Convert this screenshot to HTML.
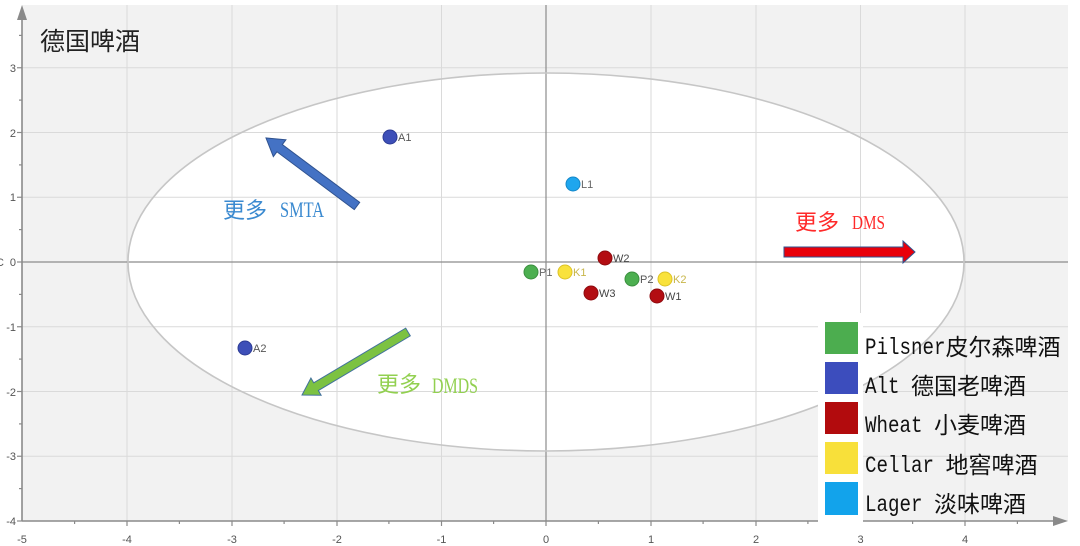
<!DOCTYPE html>
<html><head><meta charset="utf-8"><style>
html,body{margin:0;padding:0;background:#fff;}
svg{display:block;}
</style></head><body>
<svg width="1080" height="546" viewBox="0 0 1080 546" xmlns="http://www.w3.org/2000/svg">
<rect x="0" y="0" width="1080" height="546" fill="#ffffff"/>
<!-- plot background -->
<rect x="22" y="5" width="1046" height="516" fill="#f2f2f2"/>
<!-- ellipse fill -->
<ellipse cx="546" cy="262" rx="418" ry="189" fill="#ffffff"/>
<!-- gridlines -->
<g stroke="#dadada" stroke-width="1">
<line x1="22" y1="67.75" x2="1068" y2="67.75"/>
<line x1="22" y1="132.5" x2="1068" y2="132.5"/>
<line x1="22" y1="197.25" x2="1068" y2="197.25"/>
<line x1="22" y1="326.75" x2="1068" y2="326.75"/>
<line x1="22" y1="391.5" x2="1068" y2="391.5"/>
<line x1="22" y1="456.25" x2="1068" y2="456.25"/>
<line x1="127" y1="5" x2="127" y2="521"/>
<line x1="232" y1="5" x2="232" y2="521"/>
<line x1="337" y1="5" x2="337" y2="521"/>
<line x1="441.5" y1="5" x2="441.5" y2="521"/>
<line x1="651" y1="5" x2="651" y2="521"/>
<line x1="756" y1="5" x2="756" y2="521"/>
<line x1="860.5" y1="5" x2="860.5" y2="521"/>
<line x1="965" y1="5" x2="965" y2="521"/>
</g>
<!-- zero lines -->
<line x1="22" y1="262" x2="1068" y2="262" stroke="#8c8c8c" stroke-width="1.2"/>
<line x1="546" y1="5" x2="546" y2="521" stroke="#8c8c8c" stroke-width="1.2"/>
<!-- ellipse outline -->
<ellipse cx="546" cy="262" rx="418" ry="189" fill="none" stroke="#c6c6c6" stroke-width="1.6"/>
<!-- axes -->
<g stroke="#8a8a8a" stroke-width="1.6" fill="none">
<line x1="22" y1="14" x2="22" y2="521"/>
<line x1="22" y1="521" x2="1060" y2="521"/>
</g>
<polygon points="22,5 17,20 27,20" fill="#8a8a8a"/>
<polygon points="1068,521 1053,516 1053,526" fill="#8a8a8a"/>
<!-- y ticks -->
<g stroke="#8a8a8a" stroke-width="1.2">
<line x1="17" y1="67.75" x2="22" y2="67.75"/>
<line x1="17" y1="132.5" x2="22" y2="132.5"/>
<line x1="17" y1="197.25" x2="22" y2="197.25"/>
<line x1="17" y1="262" x2="22" y2="262"/>
<line x1="17" y1="326.75" x2="22" y2="326.75"/>
<line x1="17" y1="391.5" x2="22" y2="391.5"/>
<line x1="17" y1="456.25" x2="22" y2="456.25"/>
<line x1="17" y1="521" x2="22" y2="521"/>
<line x1="19" y1="35.4" x2="22" y2="35.4"/>
<line x1="19" y1="100.1" x2="22" y2="100.1"/>
<line x1="19" y1="164.9" x2="22" y2="164.9"/>
<line x1="19" y1="229.6" x2="22" y2="229.6"/>
<line x1="19" y1="294.4" x2="22" y2="294.4"/>
<line x1="19" y1="359.1" x2="22" y2="359.1"/>
<line x1="19" y1="423.9" x2="22" y2="423.9"/>
<line x1="19" y1="488.6" x2="22" y2="488.6"/>
<!-- x ticks -->
<line x1="127" y1="521" x2="127" y2="526"/>
<line x1="232" y1="521" x2="232" y2="526"/>
<line x1="337" y1="521" x2="337" y2="526"/>
<line x1="441.5" y1="521" x2="441.5" y2="526"/>
<line x1="546" y1="521" x2="546" y2="526"/>
<line x1="651" y1="521" x2="651" y2="526"/>
<line x1="756" y1="521" x2="756" y2="526"/>
<line x1="860.5" y1="521" x2="860.5" y2="526"/>
<line x1="965" y1="521" x2="965" y2="526"/>
<line x1="74.6" y1="521" x2="74.6" y2="524"/>
<line x1="179.4" y1="521" x2="179.4" y2="524"/>
<line x1="284.1" y1="521" x2="284.1" y2="524"/>
<line x1="388.9" y1="521" x2="388.9" y2="524"/>
<line x1="493.6" y1="521" x2="493.6" y2="524"/>
<line x1="598.4" y1="521" x2="598.4" y2="524"/>
<line x1="703.1" y1="521" x2="703.1" y2="524"/>
<line x1="807.9" y1="521" x2="807.9" y2="524"/>
<line x1="912.6" y1="521" x2="912.6" y2="524"/>
<line x1="1017.4" y1="521" x2="1017.4" y2="524"/>
</g>
<!-- y labels -->
<g font-family="Liberation Sans, sans-serif" font-size="11" fill="#555" text-anchor="end">
<text x="16" y="72">3</text>
<text x="16" y="137">2</text>
<text x="16" y="201">1</text>
<text x="16" y="266">0</text>
<text x="16" y="331">-1</text>
<text x="16" y="396">-2</text>
<text x="16" y="460">-3</text>
<text x="16" y="525">-4</text>
</g>
<text x="-4" y="266" font-family="Liberation Sans, sans-serif" font-size="11" fill="#555">C</text>
<!-- x labels -->
<g font-family="Liberation Sans, sans-serif" font-size="11" fill="#555" text-anchor="middle">
<text x="22" y="543">-5</text>
<text x="127" y="543">-4</text>
<text x="232" y="543">-3</text>
<text x="337" y="543">-2</text>
<text x="441.5" y="543">-1</text>
<text x="546" y="543">0</text>
<text x="651" y="543">1</text>
<text x="756" y="543">2</text>
<text x="860.5" y="543">3</text>
<text x="965" y="543">4</text>
</g>
<!-- title -->
<text x="40" y="50" font-family="Liberation Sans, Noto Sans CJK SC, sans-serif" font-size="25" fill="#222">德国啤酒</text>
<!-- arrows -->
<g transform="translate(357,206) rotate(216.77)">
<polygon points="0,-4.5 96.6,-4.5 96.6,-10.5 113.6,0 96.6,10.5 96.6,4.5 0,4.5" fill="#4472c4" stroke="#2f528f" stroke-width="1"/>
</g>
<g transform="translate(408,332) rotate(149.27)">
<polygon points="0,-4.5 107,-4.5 107,-10 123.3,0 107,10 107,4.5 0,4.5" fill="#7cc242" stroke="#41719c" stroke-width="1"/>
</g>
<polygon points="784,247 903,247 903,241 915,252 903,263 903,257 784,257" fill="#e8000b" stroke="#2f528f" stroke-width="1"/>
<!-- annotation texts -->
<text x="223" y="218" font-family="Liberation Sans, Noto Sans CJK SC, sans-serif" font-size="22" fill="#3b8ad0">更多</text>
<text x="280" y="217" font-family="Liberation Serif, serif" font-size="22" fill="#3b8ad0" textLength="44" lengthAdjust="spacingAndGlyphs">SMTA</text>
<text x="795" y="230" font-family="Liberation Sans, Noto Sans CJK SC, sans-serif" font-size="22" fill="#ff2a2a">更多</text>
<text x="852" y="229" font-family="Liberation Serif, serif" font-size="20" fill="#ff2a2a" textLength="33" lengthAdjust="spacingAndGlyphs">DMS</text>
<text x="377" y="392" font-family="Liberation Sans, Noto Sans CJK SC, sans-serif" font-size="22" fill="#92d050">更多</text>
<text x="432" y="393" font-family="Liberation Serif, serif" font-size="22" fill="#92d050" textLength="46" lengthAdjust="spacingAndGlyphs">DMDS</text>
<!-- points -->
<g stroke-width="1">
<circle cx="390" cy="137" r="7" fill="#3d4fb8" stroke="#2c3b94"/>
<circle cx="573" cy="184" r="7" fill="#1ea6ee" stroke="#1487c8"/>
<circle cx="605" cy="258" r="7" fill="#b30d12" stroke="#8e0a0e"/>
<circle cx="531" cy="272" r="7" fill="#4caf50" stroke="#3a8f3e"/>
<circle cx="565" cy="272" r="7" fill="#f9e23c" stroke="#dcc226"/>
<circle cx="632" cy="279" r="7" fill="#4caf50" stroke="#3a8f3e"/>
<circle cx="665" cy="279" r="7" fill="#f9e23c" stroke="#dcc226"/>
<circle cx="591" cy="293" r="7" fill="#b30d12" stroke="#8e0a0e"/>
<circle cx="657" cy="296" r="7" fill="#b30d12" stroke="#8e0a0e"/>
<circle cx="245" cy="348" r="7" fill="#3d4fb8" stroke="#2c3b94"/>
</g>
<g font-family="Liberation Sans, sans-serif" font-size="11">
<text x="398" y="141" fill="#555">A1</text>
<text x="581" y="188" fill="#666">L1</text>
<text x="613" y="262" fill="#444">W2</text>
<text x="539" y="276" fill="#666">P1</text>
<text x="573" y="276" fill="#c8b64a">K1</text>
<text x="640" y="283" fill="#555">P2</text>
<text x="673" y="283" fill="#c8b64a">K2</text>
<text x="599" y="297" fill="#444">W3</text>
<text x="665" y="300" fill="#444">W1</text>
<text x="253" y="352" fill="#555">A2</text>
</g>
<!-- legend -->
<rect x="818" y="313" width="45" height="213" fill="#ffffff"/>
<rect x="825" y="322" width="33" height="32" fill="#4cad4f"/>
<rect x="825" y="362" width="33" height="32" fill="#3c4dbd"/>
<rect x="825" y="402" width="33" height="32" fill="#b20b0d"/>
<rect x="825" y="442" width="33" height="32" fill="#f8e03a"/>
<rect x="825" y="482" width="33" height="33" fill="#12a3eb"/>
<g font-size="23" fill="#111">
<text x="865" y="354" font-family="Liberation Mono, monospace" textLength="80.5" lengthAdjust="spacingAndGlyphs">Pilsner</text>
<text x="945.5" y="355" font-family="Liberation Sans, Noto Sans CJK SC, sans-serif">皮尔森啤酒</text>
<text x="865" y="393" font-family="Liberation Mono, monospace" textLength="34.5" lengthAdjust="spacingAndGlyphs">Alt</text>
<text x="911" y="394" font-family="Liberation Sans, Noto Sans CJK SC, sans-serif">德国老啤酒</text>
<text x="865" y="432" font-family="Liberation Mono, monospace" textLength="57.5" lengthAdjust="spacingAndGlyphs">Wheat</text>
<text x="934" y="433" font-family="Liberation Sans, Noto Sans CJK SC, sans-serif">小麦啤酒</text>
<text x="865" y="472" font-family="Liberation Mono, monospace" textLength="69" lengthAdjust="spacingAndGlyphs">Cellar</text>
<text x="945.5" y="473" font-family="Liberation Sans, Noto Sans CJK SC, sans-serif">地窖啤酒</text>
<text x="865" y="511" font-family="Liberation Mono, monospace" textLength="57.5" lengthAdjust="spacingAndGlyphs">Lager</text>
<text x="934" y="512" font-family="Liberation Sans, Noto Sans CJK SC, sans-serif">淡味啤酒</text>
</g>
</svg>
</body></html>
